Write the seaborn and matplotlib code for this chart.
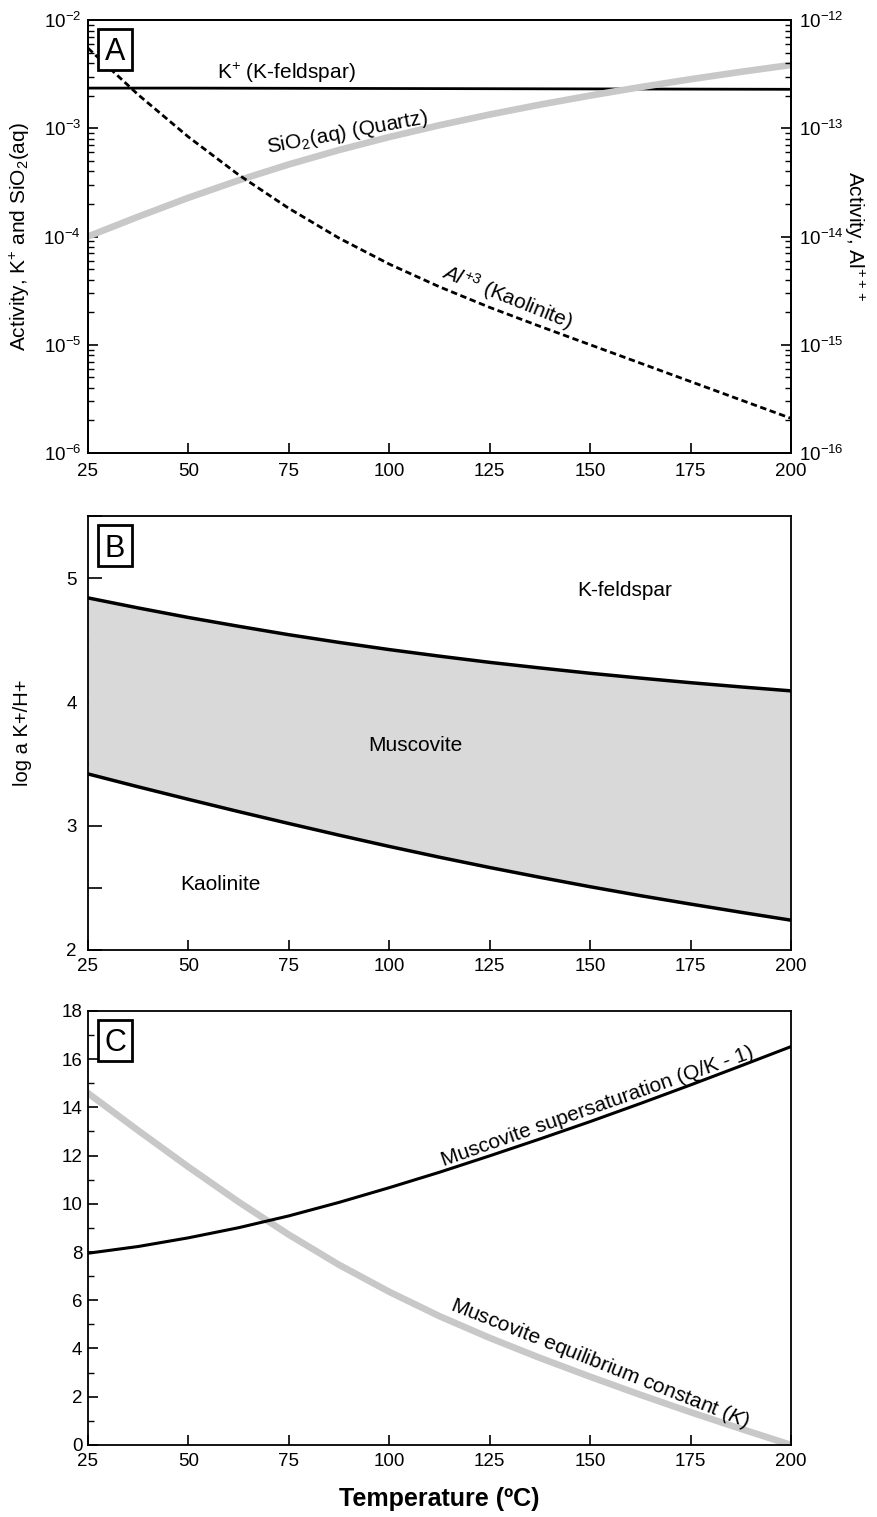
import numpy as np
import pandas as pd
import matplotlib
matplotlib.use("Agg")
import matplotlib.pyplot as plt
from matplotlib.patches import Rectangle
from matplotlib.ticker import MultipleLocator, FixedLocator, NullFormatter, FuncFormatter
import seaborn as sns

# ---------------- data ----------------
temp = [25, 37.5, 50, 62.5, 75, 87.5, 100, 112.5, 125, 137.5, 150, 162.5, 175, 187.5, 200]
k_temp = [25, 50, 75, 100, 125, 150, 175, 200]
k_activity = [2.35e-3, 2.35e-3, 2.34e-3, 2.33e-3, 2.32e-3, 2.31e-3, 2.30e-3, 2.29e-3]
sio2_log_activity = [-4.000, -3.817, -3.642, -3.481, -3.334, -3.201, -3.081, -2.972,
                     -2.873, -2.782, -2.698, -2.620, -2.547, -2.479, -2.415]
al_log_activity = [-12.26, -12.69, -13.08, -13.43, -13.74, -14.015, -14.255, -14.465,
                   -14.655, -14.83, -15.00, -15.17, -15.34, -15.51, -15.68]

kfs_musc_boundary = [4.840, 4.759, 4.682, 4.611, 4.543, 4.481, 4.423, 4.370,
                     4.320, 4.275, 4.232, 4.193, 4.156, 4.122, 4.090]
musc_kaol_boundary = [3.420, 3.316, 3.215, 3.116, 3.020, 2.926, 2.835, 2.748,
                      2.665, 2.586, 2.510, 2.438, 2.370, 2.304, 2.240]

musc_supersaturation = [7.95, 8.23, 8.59, 9.01, 9.50, 10.06, 10.67, 11.31, 11.99,
                        12.69, 13.41, 14.16, 14.93, 15.72, 16.52]
musc_eq_constant = [14.59, 13.04, 11.53, 10.08, 8.72, 7.47, 6.35, 5.34, 4.44,
                    3.61, 2.83, 2.08, 1.36, 0.67, 0.00]

x_ticks = [25, 50, 75, 100, 125, 150, 175, 200]
left_decades = [-6, -5, -4, -3, -2]
right_decades = [-16, -15, -14, -13, -12]
region_labels = ["K-feldspar", "Muscovite", "Kaolinite"]
panel_letters = ["A", "B", "C"]

# ---------------- style ----------------
sns.set_style("ticks")
plt.rcParams["font.family"] = ["Liberation Sans", "DejaVu Sans"]
plt.rcParams["mathtext.fontset"] = "custom"
plt.rcParams["mathtext.rm"] = "Liberation Sans"
plt.rcParams["mathtext.it"] = "Liberation Sans:italic"
plt.rcParams["mathtext.bf"] = "Liberation Sans:bold"
plt.rcParams["axes.unicode_minus"] = False
for key in ("text.color", "axes.labelcolor", "xtick.color", "ytick.color", "axes.edgecolor"):
    plt.rcParams[key] = "black"
plt.rcParams["axes.linewidth"] = 1.3

GRAY = "#c8c8c8"
FILL = "#d9d9d9"
TICK_FS = 13.5
LAB_FS = 15

fig = plt.figure(figsize=(8.78, 15.17), dpi=100)
left, width = 0.1002, 0.8007
axA = fig.add_axes([left, 0.7014, width, 0.2854])
axB = fig.add_axes([left, 0.3738, width, 0.2860])
axC = fig.add_axes([left, 0.0475, width, 0.2861])

df_a = pd.DataFrame({"T": temp,
                     "sio2": [10 ** v for v in sio2_log_activity],
                     "al": [10 ** v for v in al_log_activity]})
df_k = pd.DataFrame({"T": k_temp, "k": k_activity})
df_b = pd.DataFrame({"T": temp, "upper": kfs_musc_boundary, "lower": musc_kaol_boundary})
df_c = pd.DataFrame({"T": temp, "sup": musc_supersaturation, "eq": musc_eq_constant})

log_fmt = FuncFormatter(lambda v, p: r"$\mathdefault{10^{%d}}$" % int(round(np.log10(v))))


def log_axis(ax, decades):
    major = [10.0 ** d for d in decades]
    minor = [m * 10.0 ** d for d in decades[:-1] for m in range(2, 10)]
    ax.yaxis.set_major_locator(FixedLocator(major))
    ax.yaxis.set_minor_locator(FixedLocator(minor))
    ax.yaxis.set_major_formatter(log_fmt)
    ax.yaxis.set_minor_formatter(NullFormatter())


def panel_box(ax, letter):
    ax.add_patch(Rectangle((0.01422, 0.8848), 0.04836, 0.0945, transform=ax.transAxes,
                           fill=True, fc="white", ec="black", lw=2.0, zorder=5))
    ax.text(0.0384, 0.9067, letter, transform=ax.transAxes, ha="center", va="baseline",
            fontsize=22, family=["Liberation Sans Narrow", "Liberation Sans"], zorder=6)


def style_x(ax):
    ax.set_xlim(25, 200)
    ax.set_xticks(x_ticks)
    ax.set_xticklabels([str(t) for t in x_ticks])
    ax.set_xlabel("")


# ---------------- Panel A ----------------
sns.lineplot(data=df_k, x="T", y="k", ax=axA, color="black", lw=2.0, errorbar=None)
sns.lineplot(data=df_a, x="T", y="sio2", ax=axA, color=GRAY, lw=4.8, errorbar=None)
axA.set_yscale("log")
axA.set_ylim(1e-6, 1e-2)
style_x(axA)
log_axis(axA, left_decades)
axA.tick_params(axis="both", which="both", direction="in", top=False, right=False,
                labelsize=TICK_FS)
axA.tick_params(axis="y", which="major", length=7, width=1.2, pad=5)
axA.tick_params(axis="y", which="minor", length=4, width=1.0)
axA.tick_params(axis="x", which="major", length=7, width=1.2, pad=7)
axA.set_ylabel(r"Activity, K$^{+}$ and SiO$_2$(aq)", fontsize=15)
axA.yaxis.set_label_coords(-0.080, 0.5)

axA2 = axA.twinx()
sns.lineplot(data=df_a, x="T", y="al", ax=axA2, color="black", lw=2.0,
             linestyle=(0, (2.3, 1.3)), errorbar=None)
axA2.set_yscale("log")
axA2.set_ylim(1e-16, 1e-12)
log_axis(axA2, right_decades)
axA2.tick_params(axis="y", which="both", direction="in", labelsize=TICK_FS)
axA2.tick_params(axis="y", which="major", length=7, width=1.2, pad=6)
axA2.tick_params(axis="y", which="minor", length=4, width=1.0)
axA2.set_ylabel(r"Activity, Al$^{+++}$", fontsize=15, rotation=-90, va="bottom")
axA2.yaxis.set_label_coords(1.072, 0.5)
axA2.set_xlim(25, 200)

axA.text(74.5, 3.24e-3, r"K$^{+}$ (K-feldspar)", fontsize=LAB_FS, ha="center", va="center")
axA.text(89.5, 9.05e-4, r"SiO$_2$(aq) (Quartz)", fontsize=LAB_FS, ha="center", va="center",
         rotation=10.6)
axA2.text(129.3, 2.77e-15, r"$Al^{+3}$ (Kaolinite)", fontsize=LAB_FS, ha="center",
          va="center", rotation=-22)
panel_box(axA2, panel_letters[0])

# ---------------- Panel B ----------------
axB.fill_between(df_b["T"], df_b["lower"], df_b["upper"], color=FILL, lw=0)
sns.lineplot(data=df_b, x="T", y="upper", ax=axB, color="black", lw=2.5, errorbar=None)
sns.lineplot(data=df_b, x="T", y="lower", ax=axB, color="black", lw=2.5, errorbar=None)
style_x(axB)
axB.set_ylim(2, 5.5)
axB.yaxis.set_major_locator(MultipleLocator(1))
axB.yaxis.set_minor_locator(MultipleLocator(0.5))
axB.tick_params(axis="both", which="both", direction="in", top=False, right=False,
                labelsize=TICK_FS)
axB.tick_params(axis="y", which="major", length=10, width=1.2, pad=8)
axB.tick_params(axis="y", which="minor", length=10, width=1.2)
axB.tick_params(axis="x", which="major", length=7, width=1.2, pad=6)
axB.set_ylabel("log a K+/H+", fontsize=14.5)
axB.yaxis.set_label_coords(-0.080, 0.5)
axB.text(158.7, 4.90, region_labels[0], fontsize=LAB_FS, ha="center", va="center")
axB.text(106.4, 3.65, region_labels[1], fontsize=LAB_FS, ha="center", va="center")
axB.text(57.9, 2.53, region_labels[2], fontsize=LAB_FS, ha="center", va="center")
panel_box(axB, panel_letters[1])

# ---------------- Panel C ----------------
sns.lineplot(data=df_c, x="T", y="eq", ax=axC, color=GRAY, lw=4.8, errorbar=None)
sns.lineplot(data=df_c, x="T", y="sup", ax=axC, color="black", lw=2.2, errorbar=None)
style_x(axC)
axC.set_ylim(0, 18)
axC.yaxis.set_major_locator(MultipleLocator(2))
axC.yaxis.set_minor_locator(MultipleLocator(1))
axC.tick_params(axis="both", which="both", direction="in", top=False, right=False,
                labelsize=TICK_FS)
axC.tick_params(axis="y", which="major", length=7, width=1.2, pad=4)
axC.tick_params(axis="y", which="minor", length=4, width=1.0)
axC.tick_params(axis="x", which="major", length=7, width=1.2, pad=6)
axC.set_ylabel("")
axC.text(151.9, 14.02, "Muscovite supersaturation (Q/K - 1)", fontsize=LAB_FS,
         ha="center", va="center", rotation=19.3)
axC.text(152.4, 3.40, r"Muscovite equilibrium constant ($K$)", fontsize=LAB_FS,
         ha="center", va="center", rotation=-21.7)
axC.set_xlabel("Temperature (ºC)", fontsize=18, fontweight="bold", labelpad=12)
panel_box(axC, panel_letters[2])

for ax in (axA, axA2, axB, axC):
    for s in ax.spines.values():
        s.set_visible(True)
        s.set_linewidth(1.3)

fig.savefig("out.png", dpi=100)
